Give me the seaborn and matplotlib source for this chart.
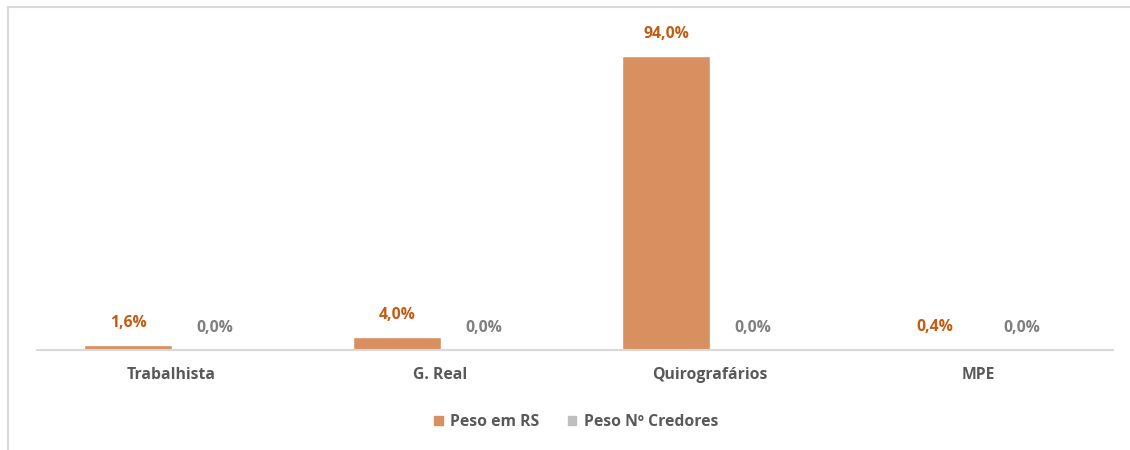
import matplotlib
matplotlib.use("Agg")
import matplotlib.pyplot as plt
import matplotlib.patches as mpatches
import seaborn as sns
import pandas as pd

categories = ["Trabalhista", "G. Real", "Quirografários", "MPE"]
peso_rs = [1.6, 4.0, 94.0, 0.4]
peso_credores = [0.0, 0.0, 0.0, 0.0]
series_names = ["Peso em RS", "Peso Nº Credores"]

df = pd.DataFrame({
    "cat": categories * 2,
    "val": peso_rs + peso_credores,
    "serie": [series_names[0]] * len(categories) + [series_names[1]] * len(categories),
})

sns.set_theme(style="white")
plt.rcParams["font.family"] = ["Open Sans", "DejaVu Sans"]

orange = "#D99060"
grey = "#BFBFBF"
label_colors = {series_names[0]: "#C55A11", series_names[1]: "#7F7F7F"}
FS = 11.3

fig = plt.figure(figsize=(11.3, 4.5), dpi=100)
ax = fig.add_axes([37 / 1130, 1 - 350 / 450, (1113 - 37) / 1130, 313 / 450])

sns.barplot(data=df, x="cat", y="val", hue="serie", order=categories,
            hue_order=series_names, palette=[orange, grey], width=0.647,
            saturation=1, ax=ax, legend=False)

ax.set_ylim(0, 100)
ax.set_xlim(-0.5, len(categories) - 0.5)
ax.set_xlabel("")
ax.set_ylabel("")
ax.set_yticks([])
for s in ["top", "right", "left"]:
    ax.spines[s].set_visible(False)
ax.spines["bottom"].set_color("#D9D9D9")
ax.spines["bottom"].set_linewidth(1.5)
ax.tick_params(axis="x", length=0, pad=12)
for t in ax.get_xticklabels():
    t.set_fontsize(FS)
    t.set_fontweight("bold")
    t.set_color("#595959")

for container, name in zip(ax.containers, series_names):
    for bar in container:
        h = bar.get_height()
        ax.annotate(f"{h:.1f}%".replace(".", ","),
                    (bar.get_x() + bar.get_width() / 2, h),
                    xytext=(0, 16), textcoords="offset points",
                    ha="center", va="center", fontsize=FS, fontweight="bold",
                    color=label_colors[name], annotation_clip=False)

handles = [mpatches.Patch(color=c, label=n) for c, n in zip([orange, grey], series_names)]
leg = fig.legend(handles=handles, loc="center", bbox_to_anchor=(0.51, 1 - 422 / 450),
                 ncol=2, frameon=False, handlelength=0.55, handleheight=0.55,
                 handletextpad=0.5, columnspacing=1.8,
                 prop={"size": FS, "weight": "bold"})
for t in leg.get_texts():
    t.set_color("#595959")

border = mpatches.Rectangle((8 / 1130, -0.1), 1.2, 1 - 7 / 450 + 0.1,
                            transform=fig.transFigure, fill=False,
                            edgecolor="#D9D9D9", linewidth=1.5, clip_on=False)
fig.patches.append(border)

fig.savefig("out.png", dpi=100, facecolor="white")
